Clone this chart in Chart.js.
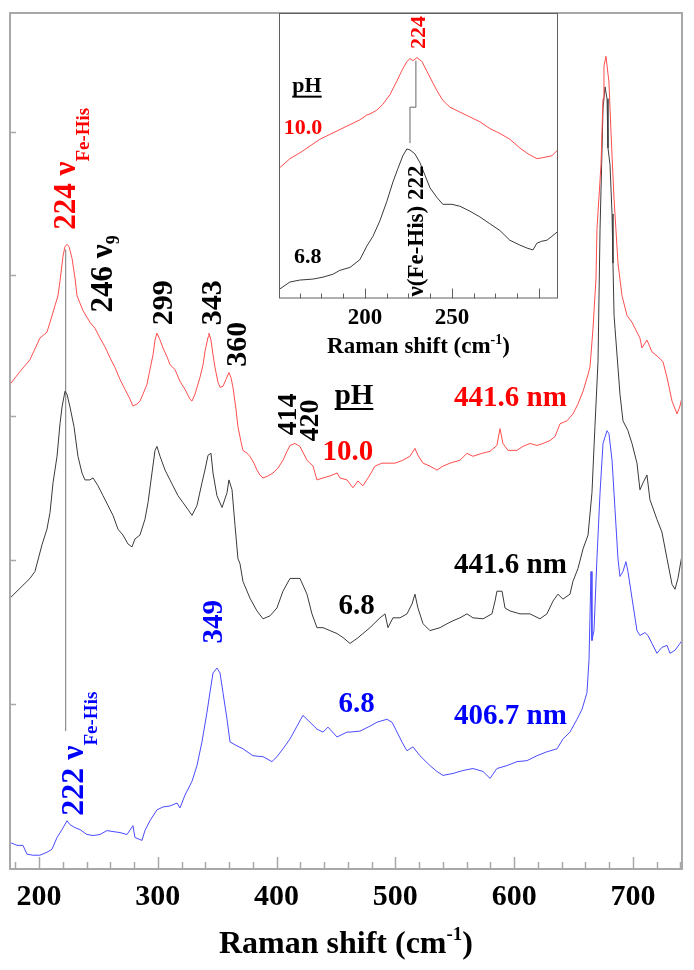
<!DOCTYPE html>
<html>
<head>
<meta charset="utf-8">
<script src="https://cdn.jsdelivr.net/npm/chart.js@4.4.0/dist/chart.umd.min.js"></script>
<style>
  html, body { margin: 0; padding: 0; background: #fff; }
  #wrap { position: relative; width: 694px; height: 970px; }
  #main { position: absolute; left: 0; top: 0; }
  #inset { position: absolute; left: 270px; top: 0; }
</style>
</head>
<body>
<div id="wrap">
  <canvas id="main" width="694" height="970"></canvas>
  <canvas id="inset" width="300" height="365"></canvas>
</div>
<script>
// main panel: Raman shift (cm-1) vs intensity (arb. units, offset traces)
var xTickLabels = [200, 300, 400, 500, 600, 700];
var yTickMarks = [168, 314, 460, 603, 748];

// 441.6 nm, pH 10.0
var redX = [175.6,184.0,192.4,200.8,206.7,209.3,213.5,216.0,217.7,220.2,221.9,223.6,225.3,227.8,230.3,232.0,237.0,242.9,247.1,251.4,
  255.6,259.8,264.0,268.2,272.4,276.6,279.1,282.5,285.0,287.5,290.9,293.4,296.0,297.7,299.3,301.9,304.4,307.8,310.3,314.5,
  318.7,322.9,327.1,328.8,331.3,335.5,338.1,339.7,342.3,343.1,344.8,346.5,348.2,350.7,352.4,354.9,357.4,359.9,361.6,363.3,
  365.8,367.5,370.0,371.7,375.1,377.6,381.0,383.5,386.0,388.6,392.8,397.0,401.2,405.4,408.8,411.3,415.5,419.7,425.6,430.7,
  434.0,439.1,445.0,450.9,453.4,459.3,464.3,468.5,472.7,478.6,482.8,488.7,493.8,499.7,506.4,512.3,516.5,519.0,523.3,529.1,
  535.0,540.1,546.0,554.4,560.3,565.3,572.9,579.7,585.5,588.1,590.6,594.8,602.4,607.4,613.3,619.2,624.3,630.2,634.4,638.6,
  644.5,649.5,653.7,658.0,662.2,663.9,666.4,668.0,668.9,669.7,673.1,674.8,675.6,677.3,679.8,681.5,684.0,685.7,687.4,690.8,
  695.0,699.2,705.9,707.6,711.8,716.0,721.1,725.3,728.7,732.9,737.1,739.6,741.3];
var redY = [492,505,517,539,545,555,572,582,597,622,632,634,632,620,600,582,567,555,549,539,
  530,519,509,497,487,477,470,472,475,482,492,507,522,537,544,537,529,520,512,507,
  495,487,477,475,482,499,512,525,540,544,537,522,509,494,489,490,497,504,499,489,
  467,449,434,425,422,419,412,405,400,397,399,402,407,415,424,430,432,429,415,409,
  395,397,399,402,397,395,387,394,389,400,409,412,412,412,415,419,427,420,412,409,
  405,409,412,415,422,419,422,424,430,447,432,425,425,429,432,430,432,435,439,452,
  455,462,472,485,502,510,549,582,599,649,715,782,815,825,799,749,682,649,615,582,
  562,555,539,529,537,525,520,515,499,475,462,470,479];

// 441.6 nm, pH 6.8
var blackX = [175.6,184.0,192.4,196.6,202.5,206.7,209.3,211.8,215.2,217.7,219.4,221.9,223.6,226.1,229.5,232.8,236.2,238.7,242.9,245.5,
  249.7,253.9,258.1,262.3,266.5,270.7,274.9,278.3,280.8,285.0,289.2,291.8,295.1,297.7,299.3,301.9,306.1,310.3,312.8,317.0,
  321.2,325.4,328.8,333.0,337.2,339.7,342.3,344.8,346.5,349.8,354.1,358.3,359.9,362.5,365.0,367.5,369.2,371.7,377.6,383.5,
  388.6,394.5,400.3,405.4,411.3,417.2,419.7,425.6,429.8,434.0,439.1,445.0,450.9,455.9,461.8,467.7,472.7,478.6,487.1,491.3,
  493.8,498.0,503.9,509.8,514.0,516.5,519.0,523.3,529.1,537.6,543.5,548.5,554.4,560.3,565.3,573.8,581.3,583.9,585.5,589.8,
  592.3,596.5,604.9,613.3,621.7,627.6,632.7,636.9,641.1,647.0,649.5,653.7,658.0,662.2,665.5,668.0,670.6,672.3,674.0,674.8,
  676.5,678.2,679.0,680.7,682.4,683.2,684.1,684.9,689.1,691.6,695.8,699.2,703.4,705.9,708.5,711.8,714.3,720.2,724.4,728.7,
  732.9,735.4,737.9,741.3];
var blackY = [275,285,295,302,329,345,362,392,419,452,469,485,482,469,449,419,402,395,395,397,
  389,379,369,359,345,339,330,327,335,339,355,372,402,425,429,419,405,395,389,379,
  372,365,359,369,392,405,420,422,402,379,367,382,395,385,349,315,310,292,275,262,
  254,257,265,282,295,295,295,279,259,245,245,242,239,235,229,234,239,245,255,259,
  245,255,255,259,269,279,265,249,242,245,249,252,255,259,255,254,259,272,282,282,
  265,262,259,259,254,259,272,279,274,279,292,305,325,339,382,449,515,649,732,772,
  794,782,732,715,665,615,562,549,482,455,445,432,412,385,392,400,375,355,342,315,
  289,284,295,319];

// 406.7 nm, pH 6.8
var blueX = [175.6,181.5,186.5,189.9,194.9,200.8,206.7,210.9,215.2,219.4,223.6,226.1,230.3,234.5,240.4,245.5,251.4,257.2,262.3,268.2,
  274.1,279.1,280.8,286.7,289.2,293.4,299.3,304.4,310.3,316.2,318.7,322.9,328.8,333.0,337.2,341.4,343.9,346.5,349.8,352.4,
  354.9,358.3,360.8,366.7,371.7,380.1,388.6,396.1,400.3,405.4,411.3,417.2,422.2,428.1,434.0,439.1,443.3,450.9,459.3,461.8,
  470.2,478.6,484.5,492.9,497.2,501.4,506.4,509.8,514.8,520.7,529.1,535.0,540.1,548.5,556.9,565.3,573.8,579.7,585.5,594.0,
  602.4,610.8,619.2,627.6,636.1,641.1,647.0,652.9,657.1,661.3,663.0,664.7,665.5,667.2,669.7,672.3,674.8,678.2,679.8,682.4,
  684.9,687.4,689.1,691.6,694.1,695.8,699.2,703.4,705.9,710.1,712.7,716.0,720.2,724.4,728.7,731.2,735.4,739.6,741.3];
var blueY = [27,24,24,15,14,14,17,20,32,40,49,45,42,40,35,34,35,39,38,37,
  35,44,32,29,39,49,60,63,64,67,62,75,89,105,129,159,179,199,204,199,
  179,152,129,125,122,115,114,109,114,122,132,145,156,149,142,139,144,134,139,139,
  140,145,149,152,149,139,127,120,124,115,105,99,95,97,100,102,99,92,102,105,
  109,110,115,119,122,132,139,152,162,179,212,302,232,242,315,382,432,445,442,415,
  365,315,297,302,312,302,275,242,237,240,237,229,219,225,227,219,222,229,232];

// marker joining the two nu(Fe-His) bands
var markX = [222.5, 222.5];
var markY = [140, 629];

// inset: low-frequency region at 441.6 nm
var insetTickLabels = [200, 250];
var insetRedX = [151.2,156.9,162.6,168.4,174.1,179.9,185.6,191.4,197.1,201.1,202.9,206.9,210.3,214.4,218.4,221.3,224.1,225.9,227.6,229.9,
  232.8,235.6,238.5,241.4,244.8,248.9,254.6,260.3,266.1,271.8,277.6,283.3,289.1,293.7,298.9,302.3,307.5,310.9];
var insetRedY = [135,144,150,157,164,169,174,179,184,189,190,194,200,210,224,235,244,247,245,248,
  244,234,224,214,204,197,192,187,182,175,170,164,155,149,144,145,147,153];
var insetBlackX = [151.2,156.9,162.6,170.1,175.9,181.6,185.6,191.4,197.1,201.1,204.6,208.6,212.6,216.1,219.0,221.8,224.1,225.9,228.7,231.6,
  234.5,237.4,241.4,244.8,250.0,254.6,260.3,266.1,271.8,277.6,283.3,289.1,293.1,296.6,298.9,301.7,304.6,307.5,310.9];
var insetBlackY = [10,17,19,20,22,25,29,32,40,54,64,80,100,120,134,147,154,153,149,140,
  127,114,104,97,97,95,90,84,77,70,60,55,52,50,57,59,60,64,69];
var bracketX = [225.9, 225.9, 229.3, 229.3];
var bracketY = [160, 197, 197, 245];

var SERIF = '"Liberation Serif", "Times New Roman", serif';
var RED = '#ff0000', BLUE = '#0000ff', BLK = '#000000';

var mainNotes = [
  {x: 230.3, y: 649, rot: true, color: RED, parts: [['224 \u03bd', 31, 0], ['Fe-His', 19, 14]]},
  {x: 261.5, y: 565, rot: true, color: BLK, parts: [['246 \u03bd', 31, 0], ['9', 18, 7]]},
  {x: 312.0, y: 552, rot: true, color: BLK, parts: [['299', 30, 0]]},
  {x: 353.2, y: 552, rot: true, color: BLK, parts: [['343', 30, 0]]},
  {x: 374.3, y: 510, rot: true, color: BLK, parts: [['360', 30, 0]]},
  {x: 416.3, y: 440, rot: true, color: BLK, parts: [['414', 28, 0]]},
  {x: 434.9, y: 434, rot: true, color: BLK, parts: [['420', 28, 0]]},
  {x: 354.1, y: 229, rot: true, color: BLUE, parts: [['349', 29, 0]]},
  {x: 237.0, y: 54, rot: true, color: BLUE, parts: [['222 \u03bd', 32, 0], ['Fe-His', 19, 14]]},
  {x: 465.2, y: 472, color: BLK, underline: true, parts: [['pH', 29, 0]]},
  {x: 460.1, y: 415, color: RED, parts: [['10.0', 29, 0]]},
  {x: 596.9, y: 470, color: RED, parts: [['441.6 nm', 29, 0]]},
  {x: 596.9, y: 300, color: BLK, parts: [['441.6 nm', 29, 0]]},
  {x: 467.3, y: 259, color: BLK, parts: [['6.8', 29, 0]]},
  {x: 467.3, y: 159, color: BLUE, parts: [['6.8', 29, 0]]},
  {x: 596.9, y: 147, color: BLUE, parts: [['406.7 nm', 29, 0]]}
];
var insetNotes = [
  {x: 166.7, y: 213, color: BLK, underline: true, parts: [['pH', 22, 0]]},
  {x: 164.4, y: 169, color: RED, parts: [['10.0', 22, 0]]},
  {x: 167.2, y: 37, color: BLK, parts: [['6.8', 22, 0]]},
  {x: 234.5, y: 257, rot: true, color: RED, parts: [['224', 22, 0]]},
  {x: 233.3, y: 2, rot: true, color: BLK, parts: [['\u03bd(Fe-His) 222', 23, 0]]}
];

function pts(xs, ys) {
  return xs.map(function (x, i) { return {x: x, y: ys[i]}; });
}
function trace(xs, ys, color) {
  return {data: pts(xs, ys), showLine: true, borderColor: color, borderWidth: 1,
          pointRadius: 0, fill: false, tension: 0};
}

function drawParts(ctx, parts, color) {
  var pos = 0;
  parts.forEach(function (p) {
    ctx.font = 'bold ' + p[1] + 'px ' + SERIF;
    ctx.fillStyle = color;
    ctx.fillText(p[0], pos, p[2]);
    pos += ctx.measureText(p[0]).width;
  });
  return pos;
}
function partsWidth(ctx, parts) {
  var w = 0;
  parts.forEach(function (p) {
    ctx.font = 'bold ' + p[1] + 'px ' + SERIF;
    w += ctx.measureText(p[0]).width;
  });
  return w;
}
function drawNotes(chart, notes) {
  var ctx = chart.ctx, sx = chart.scales.x, sy = chart.scales.y;
  ctx.save();
  ctx.textBaseline = 'alphabetic';
  ctx.textAlign = 'left';
  notes.forEach(function (n) {
    var px = sx.getPixelForValue(n.x), py = sy.getPixelForValue(n.y);
    ctx.save();
    ctx.translate(px, py);
    if (n.rot) {
      ctx.rotate(-Math.PI / 2);
      drawParts(ctx, n.parts, n.color);
    } else {
      var w = partsWidth(ctx, n.parts);
      ctx.translate(-w / 2, 0);
      drawParts(ctx, n.parts, n.color);
      if (n.underline) {
        ctx.strokeStyle = n.color;
        ctx.lineWidth = 2;
        ctx.beginPath();
        ctx.moveTo(0, 5); ctx.lineTo(w, 5);
        ctx.stroke();
      }
    }
    ctx.restore();
  });
  ctx.restore();
}
function drawTitle(chart, size, baseline) {
  var ctx = chart.ctx, a = chart.chartArea;
  var parts = [['Raman shift (cm', size, 0], ['-1', Math.round(size * 0.6), -Math.round(size * 0.4)], [')', size, 0]];
  ctx.save();
  ctx.textBaseline = 'alphabetic';
  var w = partsWidth(ctx, parts);
  ctx.translate((a.left + a.right) / 2 - w / 2, baseline);
  drawParts(ctx, parts, BLK);
  ctx.restore();
}

var mainDeco = {
  id: 'mainDeco',
  afterDraw: function (chart) {
    var ctx = chart.ctx, a = chart.chartArea, sx = chart.scales.x, sy = chart.scales.y;
    ctx.save();
    ctx.strokeStyle = '#a8a8a8';
    ctx.lineWidth = 2;
    ctx.strokeRect(a.left, a.top, a.right - a.left, a.bottom - a.top);
    ctx.lineWidth = 1.5;
    ctx.beginPath();
    for (var v = 180; v <= 740; v += 20) {
      var px = Math.round(sx.getPixelForValue(v)) + 0.5;
      var len = v % 100 === 0 ? 12 : 7;
      ctx.moveTo(px, a.bottom);
      ctx.lineTo(px, a.bottom - len);
    }
    yTickMarks.forEach(function (t) {
      var py = Math.round(sy.getPixelForValue(t)) + 0.5;
      ctx.moveTo(a.left, py);
      ctx.lineTo(a.left + 6, py);
    });
    ctx.stroke();
    ctx.restore();
    drawNotes(chart, mainNotes);
    drawTitle(chart, 32, 953);
  }
};

var insetDeco = {
  id: 'insetDeco',
  beforeDatasetsDraw: function (chart) {
    var ctx = chart.ctx, a = chart.chartArea;
    ctx.save();
    ctx.fillStyle = '#fff';
    ctx.fillRect(a.left, a.top, a.right - a.left, a.bottom - a.top);
    ctx.restore();
  },
  afterDraw: function (chart) {
    var ctx = chart.ctx, a = chart.chartArea, sx = chart.scales.x;
    ctx.save();
    ctx.strokeStyle = '#606060';
    ctx.lineWidth = 1;
    ctx.strokeRect(a.left + 0.5, a.top + 0.5, a.right - a.left - 1, a.bottom - a.top - 1);
    ctx.beginPath();
    for (var v = 162.5; v <= 300; v += 12.5) {
      var px = Math.round(sx.getPixelForValue(v)) + 0.5;
      var len = v % 50 === 0 ? 10 : 5;
      ctx.moveTo(px, a.bottom);
      ctx.lineTo(px, a.bottom - len);
    }
    ctx.stroke();
    ctx.restore();
    drawNotes(chart, insetNotes);
    drawTitle(chart, 23, 353);
  }
};

var mark = trace(markX, markY, '#777777');

new Chart(document.getElementById('main'), {
  type: 'scatter',
  data: {
    datasets: [
      trace(redX, redY, '#ff4d4d'),
      trace(blackX, blackY, '#3a3a3a'),
      trace(blueX, blueY, '#4a4aff'),
      mark
    ]
  },
  options: {
    responsive: false,
    animation: false,
    devicePixelRatio: 1,
    layout: {padding: {left: 10, top: 13, right: 12, bottom: 45}},
    plugins: {legend: {display: false}, tooltip: {enabled: false}},
    scales: {
      x: {
        type: 'linear', min: 175.6, max: 741.3,
        grid: {display: false, drawTicks: false},
        border: {display: false},
        afterBuildTicks: function (s) { s.ticks = xTickLabels.map(function (v) { return {value: v}; }); },
        ticks: {padding: 13, color: BLK, maxRotation: 0, autoSkip: false,
                font: {family: SERIF, size: 30, weight: 'bold', lineHeight: 1},
                callback: function (v) { return String(v); }}
      },
      y: {type: 'linear', display: false, min: 0, max: 869}
    }
  },
  plugins: [mainDeco]
});

new Chart(document.getElementById('inset'), {
  type: 'scatter',
  data: {
    datasets: [
      trace(insetRedX, insetRedY, '#ff4d4d'),
      trace(insetBlackX, insetBlackY, '#3a3a3a'),
      trace(bracketX, bracketY, '#666666')
    ]
  },
  options: {
    responsive: false,
    animation: false,
    devicePixelRatio: 1,
    layout: {padding: {left: 9, top: 13, right: 12, bottom: 26.5}},
    plugins: {legend: {display: false}, tooltip: {enabled: false}},
    scales: {
      x: {
        type: 'linear', min: 150.6, max: 311,
        grid: {display: false, drawTicks: false},
        border: {display: false},
        afterBuildTicks: function (s) { s.ticks = insetTickLabels.map(function (v) { return {value: v}; }); },
        ticks: {padding: 8.5, color: BLK, maxRotation: 0, autoSkip: false,
                font: {family: SERIF, size: 23, weight: 'bold', lineHeight: 1},
                callback: function (v) { return String(v); }}
      },
      y: {type: 'linear', display: false, min: 0, max: 294}
    }
  },
  plugins: [insetDeco]
});
</script>
</body>
</html>
